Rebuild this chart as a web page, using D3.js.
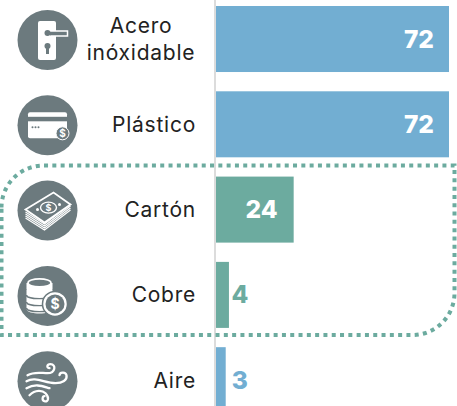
<!DOCTYPE html>
<html>
<head>
<meta charset="utf-8">
<script src="https://cdn.jsdelivr.net/npm/d3@7/dist/d3.min.js"></script>
<style>
html,body{margin:0;padding:0;background:#fff;overflow:hidden}
svg{display:block}
text{font-family:Inter,"Open Sans",sans-serif}
</style>
</head>
<body>
<svg id="chart" width="457" height="406"></svg>
<script>
const categories = ["Acero inóxidable", "Plástico", "Cartón", "Cobre", "Aire"];
const labelLines = [["Acero", "inóxidable"], ["Plástico"], ["Cartón"], ["Cobre"], ["Aire"]];
const values = [72, 72, 24, 4, 3];
const barColors = ["#72aed2", "#72aed2", "#6cab9f", "#6cab9f", "#72aed2"];
const icons = ["door", "card", "cash", "coins", "wind"];

const svg = d3.select("#chart");
const x = d3.scaleLinear().domain([0, 72]).range([216, 449]);
const y = d3.scaleBand().domain(categories).range([6, 413.2]).paddingInner(0.226).paddingOuter(0);

// baseline rule behind the bars
svg.append("line").attr("x1", 215).attr("x2", 215).attr("y1", 0).attr("y2", 406)
  .attr("stroke", "#dcdcdc").attr("stroke-width", 2);

svg.selectAll("rect.bar").data(categories).join("rect").attr("class", "bar")
  .attr("x", x(0)).attr("y", d => y(d))
  .attr("width", (d, i) => x(values[i]) - x(0)).attr("height", y.bandwidth())
  .attr("fill", (d, i) => barColors[i]);

// category labels, multi-line ones centred on their widest line
categories.forEach((c, i) => {
  const lines = labelLines[i];
  const cy = y(c) + y.bandwidth() / 2;
  const t = svg.append("text").attr("font-size", 21).attr("fill", "#222")
    .attr("letter-spacing", 0.75);
  if (lines.length === 1) {
    t.attr("text-anchor", "end").attr("x", 196).attr("y", cy + 7.5).text(lines[0]);
  } else {
    t.attr("text-anchor", "middle");
    lines.forEach((l, k) => t.append("tspan").attr("x", 141).attr("y", cy - 6.5 + k * 27).text(l));
  }
});

// value labels: inside the bar when it is wide enough, otherwise just past its end
svg.selectAll("text.value").data(categories).join("text").attr("class", "value")
  .attr("y", d => y(d) + y.bandwidth() / 2 + 8.5)
  .attr("x", (d, i) => values[i] >= 24 ? (values[i] === 24 ? x(values[i]) - 16 : x(values[i]) - 15) : x(values[i]) + (i === 3 ? 2.5 : 6))
  .attr("text-anchor", (d, i) => values[i] >= 24 ? "end" : "start")
  .attr("font-size", 24.5).attr("font-weight", 800)
  .attr("fill", (d, i) => values[i] >= 24 ? "#fff" : barColors[i])
  .text((d, i) => values[i]);

// dotted leaf-shaped frame around the highlighted pair: round at top-left and bottom-right only
svg.append("path")
  .attr("d", "M1.5,207.5A42,42 0 0 1 43.5,165.5H454.5V293A42,42 0 0 1 412.5,335H1.5Z")
  .attr("fill", "none")
  .attr("stroke", "#6cab9f").attr("stroke-width", 4).attr("stroke-dasharray", "4 4.3");

// round icon badges
const W = "#fff", G = "#6c7a7e";
const drawIcon = {
  door(g) {
    g.append("rect").attr("x", -9.5).attr("y", -19).attr("width", 18).attr("height", 39).attr("rx", 2).attr("fill", W);
    g.append("path").attr("d", "M1,-9H20V-4H3").attr("fill", G).attr("stroke", W).attr("stroke-width", 1.5);
    g.append("circle").attr("cx", 0).attr("cy", -7).attr("r", 3).attr("fill", G);
    g.append("circle").attr("cx", 0).attr("cy", 6).attr("r", 3).attr("fill", G);
    g.append("rect").attr("x", -1.5).attr("y", 7).attr("width", 3).attr("height", 7).attr("fill", G);
  },
  card(g) {
    g.append("rect").attr("x", -19.5).attr("y", -13).attr("width", 39).attr("height", 26).attr("rx", 2).attr("fill", W);
    g.append("rect").attr("x", -19.5).attr("y", -8.5).attr("width", 39).attr("height", 4.5).attr("fill", G);
    [-15, -12, -9].forEach(d => g.append("circle").attr("cx", d).attr("cy", 2).attr("r", 1).attr("fill", G));
    g.append("circle").attr("cx", 15).attr("cy", 8).attr("r", 6.5).attr("fill", G).attr("stroke", W).attr("stroke-width", 1);
    g.append("text").attr("x", 15).attr("y", 12).attr("text-anchor", "middle").attr("font-size", 10).attr("font-weight", 700).attr("fill", W).text("$");
  },
  cash(g) {
    [1.5, 3.5, 5.5, 7.5].forEach(d => g.append("path")
      .attr("d", `M-22,${d}L-3,${d + 12}L23,${d - 8}`).attr("fill", "none").attr("stroke", W).attr("stroke-width", 1.2));
    const note = g.append("g");
    note.append("path").attr("d", "M-22,-1L6,-18L23,-6L-3,12Z").attr("fill", G).attr("stroke", W).attr("stroke-width", 1.8);
    note.append("ellipse").attr("cx", 1).attr("cy", -3).attr("rx", 8).attr("ry", 5.5).attr("fill", "none").attr("stroke", W).attr("stroke-width", 1.4);
    note.append("circle").attr("cx", -10).attr("cy", -1).attr("r", 1.5).attr("fill", W);
    note.append("circle").attr("cx", 12).attr("cy", -6).attr("r", 1.5).attr("fill", W);
    g.append("text").attr("x", 1).attr("y", 0).attr("text-anchor", "middle").attr("font-size", 9).attr("font-weight", 700).attr("fill", W).text("$");
  },
  coins(g) {
    [-13, -6, 1, 7].forEach(d => g.append("path")
      .attr("d", `M-21,${d}V${d + 6}C-21,${d + 12} 5,${d + 12} 5,${d + 6}V${d}`).attr("fill", W));
    [-6, 1, 7].forEach(d => g.append("path")
      .attr("d", `M-21,${d + 5}C-21,${d + 10} 5,${d + 10} 5,${d + 5}`).attr("fill", "none").attr("stroke", G).attr("stroke-width", 1.4));
    g.append("ellipse").attr("cx", -8).attr("cy", -13).attr("rx", 11.5).attr("ry", 4).attr("fill", G).attr("stroke", W).attr("stroke-width", 1.6);
    g.append("circle").attr("cx", 7.5).attr("cy", 8).attr("r", 12.5).attr("fill", W).attr("stroke", G).attr("stroke-width", 1.5);
    g.append("circle").attr("cx", 7.5).attr("cy", 8).attr("r", 9.5).attr("fill", G);
    g.append("text").attr("x", 7.5).attr("y", 13).attr("text-anchor", "middle").attr("font-size", 14).attr("font-weight", 700).attr("fill", W).text("$");
  },
  wind(g) {
    const p = g.append("g").attr("fill", "none").attr("stroke", W).attr("stroke-width", 2.3).attr("stroke-linecap", "round");
    p.append("path").attr("d", "M-20,-6C-13,-10 -6,-8 0,-8C8,-8 9,-17 3,-17C-1,-17 -1,-13 2,-13");
    p.append("path").attr("d", "M-21,0C-12,-5 -3,2 8,2C15,2 20,-1 19,-6C18,-10 12,-9 12,-6");
    p.append("path").attr("d", "M-21,7C-12,2 -5,5 2,7");
    p.append("path").attr("d", "M-18,14C-12,8 -5,9 -2,12C2,16 1,21 -3,20C-6,19 -5,15 -3,15");
  }
};
categories.forEach((c, i) => {
  const g = svg.append("g").attr("transform", `translate(47.5,${y(c) + y.bandwidth() / 2 + 1})`);
  g.append("circle").attr("r", 30).attr("fill", G);
  drawIcon[icons[i]](g);
});
</script>
</body>
</html>
